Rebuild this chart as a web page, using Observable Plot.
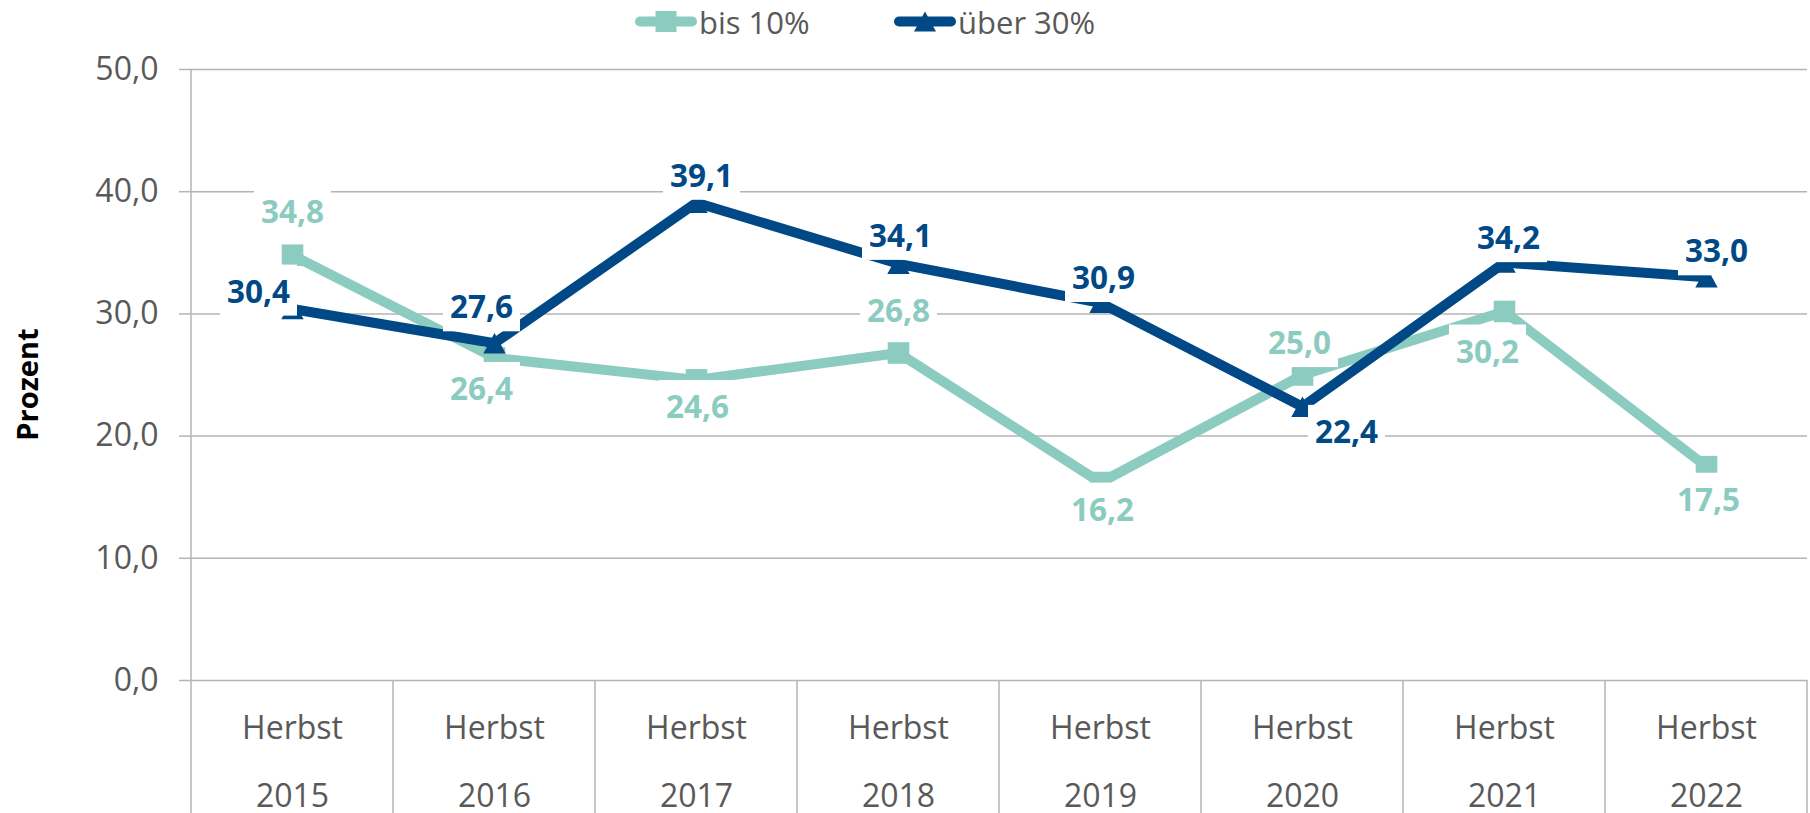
<!DOCTYPE html>
<html><head><meta charset="utf-8">
<script src="https://cdn.jsdelivr.net/npm/d3@7"></script>
<script src="https://cdn.jsdelivr.net/npm/@observablehq/plot@0.6"></script>
<style>
html,body{margin:0;padding:0;background:#fff;}
#legend{display:block;}
#chart svg{display:block;}
</style></head><body>
<svg id="legend" width="1810" height="45"></svg>
<div id="chart"></div>
<script>
// ---- data ----
const categories = ["Herbst\n2015","Herbst\n2016","Herbst\n2017","Herbst\n2018","Herbst\n2019","Herbst\n2020","Herbst\n2021","Herbst\n2022"];
const seriesNames = ["bis 10%", "über 30%"];
const bis10 = [34.8, 26.4, 24.6, 26.8, 16.2, 25.0, 30.2, 17.5];
const ueber30 = [30.4, 27.6, 39.1, 34.1, 30.9, 22.4, 34.2, 33.0];
const yTicks = [0, 10, 20, 30, 40, 50];
const yLabel = "Prozent";

// ---- styling ----
const colors = ["#8ccbc0", "#004986"];
const textGray = "#595959";
const lineGray = "#b4b4b4";
// label offsets (px) relative to each point
const labelOffsets = [
  [[0,-42],[-13,32],[1,28],[0,-41],[2,28],[-3,-31],[-17,41],[2,34]],
  [[-34,-16.5],[-13,-35],[5,-26],[2,-27],[3,-24],[44,26],[4,-23.5],[10,-25]]
];
const fmt = v => v.toFixed(1).replace(".", ",");

const seriesValues = [bis10, ueber30];
const rows = seriesNames.flatMap((s, si) => categories.map((c, i) => ({series: s, si, i, cat: c, value: seriesValues[si][i]})));

const triangleSym = {
  draw(ctx, size) {
    const s = Math.sqrt(size);
    const h = s * 0.5, w = s * 0.55;
    ctx.moveTo(0, -h); ctx.lineTo(w, h); ctx.lineTo(-w, h); ctx.closePath();
  }
};

// frame lines: y-axis line and x category dividers
function frameLines(index, scales, values, dims) {
  const ns = "http://www.w3.org/2000/svg";
  const g = document.createElementNS(ns, "g");
  const x = scales.x, y = scales.y;
  const bw = typeof x.bandwidth === "function" ? x.bandwidth() : 0;
  const y0 = y(0), yTop = y(d3.max(yTicks));
  const add = (x1, y1, x2, y2) => {
    const l = document.createElementNS(ns, "line");
    l.setAttribute("x1", x1); l.setAttribute("x2", x2);
    l.setAttribute("y1", y1); l.setAttribute("y2", y2);
    l.setAttribute("stroke", lineGray); l.setAttribute("stroke-width", 1.5);
    g.appendChild(l);
  };
  add(dims.marginLeft, yTop, dims.marginLeft, dims.height);
  categories.forEach((c, i) => { if (i > 0) add(x(c), y0, x(c), dims.height); });
  const last = categories[categories.length - 1];
  add(x(last) + bw, y0, x(last) + bw, dims.height);
  return g;
}

const labelMarks = rows.map(r => Plot.text([r], {
  x: "cat", y: "value", text: d => fmt(d.value),
  dx: labelOffsets[r.si][r.i][0], dy: labelOffsets[r.si][r.i][1],
  fill: colors[r.si], fontWeight: "bold", fontSize: 31.5,
  ariaDescription: "datalabel"
}));

const plot = Plot.plot({
  width: 1810,
  height: 768,
  marginTop: 24,
  marginBottom: 133,
  marginLeft: 191,
  marginRight: 3,
  style: {fontFamily: "Open Sans", fontSize: "32px", background: "white", overflow: "visible"},
  x: {type: "band", domain: categories, padding: 0, axis: null},
  y: {domain: [0, 50], axis: null},
  marks: [
    Plot.gridY(yTicks, {stroke: lineGray, strokeOpacity: 1, strokeWidth: 1.5}),
    Plot.axisY(yTicks, {tickSize: 12, tickPadding: 21, tickFormat: fmt, fontSize: 32, fill: textGray, stroke: lineGray, strokeWidth: 1.5, label: null}),
    frameLines,
    Plot.text(categories, {x: d => d, text: d => d, frameAnchor: "bottom", lineAnchor: "top", dy: 10, lineHeight: 2.13, fontSize: 32, fill: textGray}),
    Plot.text([yLabel], {frameAnchor: "left", text: d => d, textAnchor: "middle", lineAnchor: "middle", rotate: -90, dx: -163, dy: 9.5, fontWeight: "bold", fontSize: 29, fill: "black"}),
    Plot.line(rows.filter(r => r.si === 0), {x: "cat", y: "value", stroke: colors[0], strokeWidth: 10, strokeLinejoin: "round"}),
    Plot.dot(rows.filter(r => r.si === 0), {x: "cat", y: "value", symbol: "square", r: 12.2, fill: colors[0], stroke: "none"}),
    Plot.line(rows.filter(r => r.si === 1), {x: "cat", y: "value", stroke: colors[1], strokeWidth: 10, strokeLinejoin: "round"}),
    Plot.dot(rows.filter(r => r.si === 1), {x: "cat", y: "value", symbol: triangleSym, r: 11.5, fill: colors[1], stroke: "none"}),
    ...labelMarks
  ]
});
document.getElementById("chart").appendChild(plot);

// white boxes behind data labels
const ns = "http://www.w3.org/2000/svg";
plot.querySelectorAll('g[aria-description="datalabel"]').forEach(g => {
  const bg = document.createElementNS(ns, "g");
  g.querySelectorAll("text").forEach(t => {
    const b = t.getBBox();
    const r = document.createElementNS(ns, "rect");
    r.setAttribute("x", b.x - 7); r.setAttribute("y", b.y - 4);
    r.setAttribute("width", b.width + 14); r.setAttribute("height", b.height + 8);
    r.setAttribute("fill", "white");
    const tr = t.getAttribute("transform"); if (tr) r.setAttribute("transform", tr);
    bg.appendChild(r);
  });
  const gt = g.getAttribute("transform"); if (gt) bg.setAttribute("transform", gt);
  g.parentNode.insertBefore(bg, g);
});

// legend
const lg = d3.select("#legend");
const legendItems = [
  {name: seriesNames[0], color: colors[0], x: 640, sym: "square"},
  {name: seriesNames[1], color: colors[1], x: 899, sym: "triangle"}
];
legendItems.forEach(it => {
  lg.append("line").attr("x1", it.x).attr("x2", it.x + 52).attr("y1", 21.5).attr("y2", 21.5)
    .attr("stroke", it.color).attr("stroke-width", 10).attr("stroke-linecap", "round");
  const cx = it.x + 26;
  if (it.sym === "square") {
    lg.append("rect").attr("x", cx - 10.5).attr("y", 11).attr("width", 21).attr("height", 21).attr("fill", it.color);
  } else {
    lg.append("path").attr("d", `M${cx},11.5L${cx + 11},31.5L${cx - 11},31.5Z`).attr("fill", it.color);
  }
  lg.append("text").attr("x", it.x + 59).attr("y", 33.5).attr("fill", textGray)
    .attr("font-family", "Open Sans").attr("font-size", 31).text(it.name);
});
</script>
</body></html>
